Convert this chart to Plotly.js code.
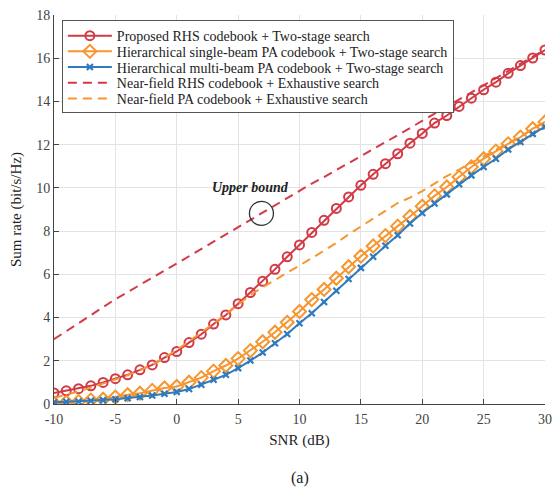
<!DOCTYPE html>
<html>
<head>
<meta charset="utf-8">
<script src="https://cdn.plot.ly/plotly-3.0.1.min.js"></script>
<style>html,body{margin:0;padding:0;background:#fff;}#chart{width:557px;height:489px;}</style>
</head>
<body>
<div id="chart"></div>
<script>
const snr = [-10,-9,-8,-7,-6,-5,-4,-3,-2,-1,0,1,2,3,4,5,6,7,8,9,10,11,12,13,14,15,16,17,18,19,20,21,22,23,24,25,26,27,28,29,30];
const rhsTwoStage = [0.51,0.61,0.71,0.84,1.0,1.17,1.35,1.58,1.81,2.15,2.43,2.84,3.23,3.70,4.12,4.64,5.16,5.68,6.23,6.81,7.36,7.94,8.5,9.05,9.58,10.12,10.63,11.12,11.58,12.07,12.52,13.0,13.35,13.77,14.15,14.54,14.89,15.3,15.66,16.01,16.38];
const singleBeamPA = [0.04,0.08,0.12,0.18,0.22,0.32,0.43,0.5,0.63,0.74,0.81,1.01,1.22,1.52,1.78,2.1,2.47,2.88,3.32,3.78,4.28,4.83,5.3,5.82,6.35,6.84,7.31,7.79,8.23,8.68,9.15,9.63,10.04,10.5,10.97,11.35,11.7,12.04,12.35,12.74,13.05];
const multiBeamPA = [0.08,0.1,0.12,0.15,0.18,0.22,0.27,0.32,0.39,0.47,0.56,0.69,0.89,1.12,1.35,1.66,2.01,2.38,2.81,3.24,3.74,4.2,4.72,5.24,5.78,6.3,6.81,7.32,7.81,8.35,8.84,9.28,9.7,10.17,10.58,10.97,11.35,11.78,12.12,12.5,12.84];
const rhsExhaustive = [3.0,3.37,3.74,4.1,4.48,4.85,5.18,5.5,5.83,6.17,6.5,6.84,7.18,7.52,7.86,8.2,8.52,8.84,9.2,9.55,9.9,10.2,10.5,10.82,11.13,11.45,11.78,12.1,12.44,12.77,13.1,13.43,13.76,14.09,14.42,14.75,15.08,15.4,15.73,16.06,16.4];
const paExhaustive = [0.28,0.42,0.58,0.76,0.95,1.12,1.33,1.56,1.82,2.15,2.5,2.9,3.3,3.72,4.15,4.6,5.05,5.4,5.73,6.06,6.4,6.75,7.1,7.45,7.85,8.22,8.6,8.95,9.3,9.55,9.85,10.2,10.55,10.85,11.15,11.45,11.75,12.05,12.38,12.7,13.05];
const seriesNames = [
  "Proposed RHS codebook + Two-stage search",
  "Hierarchical single-beam PA codebook + Two-stage search",
  "Hierarchical multi-beam PA codebook + Two-stage search",
  "Near-field RHS codebook + Exhaustive search",
  "Near-field PA codebook + Exhaustive search"
];
const xTickVals = [-10,-5,0,5,10,15,20,25,30];
const xTickText = ["-10","-5","0","5","10","15","20","25","30"];
const yTickVals = [0,2,4,6,8,10,12,14,16,18];
const annotationText = "Upper bound";
const annotationPos = [6.0, 10.03];
const circlePos = [6.9, 8.82];

const RED = "#d23a46", ORANGE = "#f7952e", BLUE = "#2f7bbd";
const FONT = "'Liberation Serif', 'Times New Roman', serif";

const traces = [
  {x: snr, y: rhsTwoStage, name: seriesNames[0], mode: "lines+markers",
   line: {color: RED, width: 2}, marker: {symbol: "circle-open", size: 9, color: RED, line: {width: 2, color: RED}}},
  {x: snr, y: singleBeamPA, name: seriesNames[1], mode: "lines+markers",
   line: {color: ORANGE, width: 2}, marker: {symbol: "diamond-open", size: 10, color: ORANGE, line: {width: 2, color: ORANGE}}},
  {x: snr, y: multiBeamPA, name: seriesNames[2], mode: "lines+markers",
   line: {color: BLUE, width: 2}, marker: {symbol: "x-thin-open", size: 6, color: BLUE, line: {width: 2.2, color: BLUE}}},
  {x: snr, y: rhsExhaustive, name: seriesNames[3], mode: "lines",
   line: {color: RED, width: 2, dash: "9px,6px"}},
  {x: snr, y: paExhaustive, name: seriesNames[4], mode: "lines",
   line: {color: ORANGE, width: 2, dash: "9px,6px"}}
];

const layout = {
  width: 557, height: 489,
  margin: {l: 54, r: 12, t: 15, b: 85, pad: 0},
  paper_bgcolor: "#fff", plot_bgcolor: "#fff",
  font: {family: FONT, size: 14, color: "#333"},
  showlegend: true,
  legend: {x: 0.016, y: 0.987, xanchor: "left", yanchor: "top",
    bgcolor: "#fff", bordercolor: "#555", borderwidth: 1,
    font: {family: FONT, size: 14, color: "#222"}, tracegroupgap: 0, itemwidth: 44},
  xaxis: {range: [-10, 30], tickmode: "array", tickvals: xTickVals, ticktext: xTickText,
    showline: true, linecolor: "#444", linewidth: 1, ticks: "inside", ticklen: 5, tickcolor: "#444",
    showgrid: true, gridcolor: "#e3e3e3", gridwidth: 1, zeroline: false, mirror: false,
    tickfont: {family: FONT, size: 14, color: "#444"}, ticklabelstandoff: 2,
    title: {text: "SNR (dB)", font: {family: FONT, size: 15, color: "#222"}, standoff: 8}},
  yaxis: {range: [0, 18], tickmode: "array", tickvals: yTickVals,
    showline: true, linecolor: "#444", linewidth: 1, ticks: "inside", ticklen: 5, tickcolor: "#444",
    showgrid: true, gridcolor: "#e3e3e3", gridwidth: 1, zeroline: false, mirror: false,
    tickfont: {family: FONT, size: 14, color: "#444"},
    title: {text: "Sum rate (bit/s/Hz)", font: {family: FONT, size: 15, color: "#222"}, standoff: 10}},
  annotations: [
    {x: annotationPos[0], y: annotationPos[1], xref: "x", yref: "y", text: "<b><i>" + annotationText + "</i></b>",
     showarrow: false, font: {family: FONT, size: 14, color: "#222"}},
    {x: 0.5, y: 0, xref: "paper", yref: "paper", yanchor: "middle", yshift: -74, text: "(a)",
     showarrow: false, font: {family: FONT, size: 16, color: "#222"}}
  ],
  shapes: [
    {type: "circle", xref: "x", yref: "y", xsizemode: "pixel", ysizemode: "pixel",
     xanchor: circlePos[0], yanchor: circlePos[1], x0: -12, x1: 12, y0: -12, y1: 12,
     line: {color: "#333", width: 1.3}}
  ]
};

const gd = document.getElementById("chart");
Plotly.newPlot(gd, traces, layout, {displayModeBar: false, staticPlot: true}).then(function () {
  try {
    // tighten legend row spacing to match the reference
    const spacing = 15.7;
    const items = gd.querySelectorAll(".legend .traces");
    if (!items.length) return;
    const parse = el => {
      const m = /translate\(\s*([-\d.e]+)[ ,]+([-\d.e]+)\s*\)/.exec(el.getAttribute("transform") || "");
      return m ? [parseFloat(m[1]), parseFloat(m[2])] : [0, 0];
    };
    const first = parse(items[0]);
    const lastOld = parse(items[items.length - 1])[1];
    items.forEach((el, i) => {
      const p = parse(el);
      el.setAttribute("transform", "translate(" + p[0] + "," + (first[1] - 1 + i * spacing) + ")");
    });
    const lastNew = first[1] - 1 + (items.length - 1) * spacing;
    const shrink = lastOld - lastNew + 2;
    gd.querySelectorAll(".legend rect.bg").forEach(r => {
      const h = parseFloat(r.getAttribute("height"));
      r.setAttribute("height", h - shrink);
    });
  } catch (e) {}
});
</script>
</body>
</html>
